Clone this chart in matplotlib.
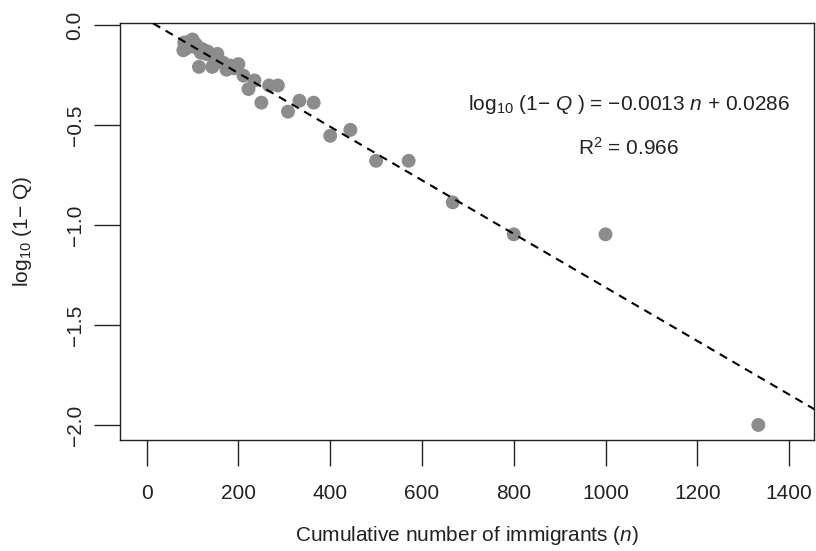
import matplotlib
matplotlib.use('Agg')
from matplotlib import pyplot as plt

plt.rcParams['font.family'] = ['Liberation Sans', 'DejaVu Sans']
plt.rcParams['mathtext.fontset'] = 'custom'
plt.rcParams['mathtext.rm'] = 'Liberation Sans'
plt.rcParams['mathtext.it'] = 'Liberation Sans:italic'

# cumulative number of immigrants (n) and log10(1-Q)
n_values = [1333, 1000, 800, 667, 571, 500, 444, 400, 364, 333, 308, 286, 267,
            250, 235, 222, 211, 200, 190, 182, 174, 167, 160, 154, 148, 143,
            138, 133, 129, 125, 121, 118, 114, 111, 108, 105, 103, 100, 98,
            95, 93, 91, 89, 87, 85, 83, 82, 80]
log_1mq = [-2.000, -1.046, -1.046, -0.886, -0.678, -0.678, -0.523, -0.553,
           -0.387, -0.377, -0.432, -0.301, -0.301, -0.387, -0.276, -0.319,
           -0.252, -0.194, -0.215, -0.201, -0.222, -0.187, -0.180, -0.143,
           -0.155, -0.208, -0.149, -0.131, -0.143, -0.125, -0.119, -0.137,
           -0.208, -0.114, -0.097, -0.108, -0.086, -0.071, -0.092, -0.097,
           -0.081, -0.102, -0.092, -0.114, -0.097, -0.119, -0.086, -0.125]

# fitted line (the drawn line uses the unrounded slope)
slope = -0.00134
intercept = 0.0286
fit_text = 'log$_{10}$ (1\u2212 $Q$ ) = \u22120.0013 $n$ + 0.0286'
r2_text = 'R$^2$ = 0.966'

xticks = [0, 200, 400, 600, 800, 1000, 1200, 1400]
yticks = [0.0, -0.5, -1.0, -1.5, -2.0]
ytick_labels = ['0.0', '\u22120.5', '\u22121.0', '\u22121.5', '\u22122.0']

fig = plt.figure(figsize=(8.16, 5.51), dpi=100)
ax = fig.add_axes([0.1471, 0.2015, 0.8508, 0.7562])

ax.scatter(n_values, log_1mq, s=100, color='#8c8c8c', edgecolors='none', zorder=2)
ax.axline((0, intercept), slope=slope, color='black', lw=1.5,
          linestyle=(0, (4, 3)), zorder=3)

ax.set_xlim(-58, 1455)
ax.set_ylim(-2.075, 0.010)

ax.set_xticks(xticks)
ax.set_yticks(yticks)
ax.set_yticklabels(ytick_labels)

for sp in ax.spines.values():
    sp.set_linewidth(1.0)
    sp.set_color('#222222')

ax.tick_params(axis='both', direction='out', length=18.5, width=1.0,
               color='#222222', labelsize=15, labelcolor='#222222')
ax.tick_params(axis='x', pad=13)
ax.tick_params(axis='y', pad=7, labelrotation=90)
for lab in ax.get_yticklabels():
    lab.set_va('center')

ax.set_xlabel('Cumulative number of immigrants ($n$)', fontsize=15, color='#222222')
ax.set_ylabel('log$_{10}$ (1\u2212 Q)', fontsize=15, color='#222222')
ax.xaxis.set_label_coords(0.5, -0.230)
ax.xaxis.label.set_va('center')
ax.yaxis.set_label_coords(-0.141, 0.5)
ax.yaxis.label.set_va('center')

ax.text(0.733, 0.804, fit_text, transform=ax.transAxes, ha='center',
        va='center', fontsize=15, color='#222222')
ax.text(0.733, 0.701, r2_text, transform=ax.transAxes,
        ha='center', va='center', fontsize=15, color='#222222')

fig.savefig('out.png', dpi=100)
